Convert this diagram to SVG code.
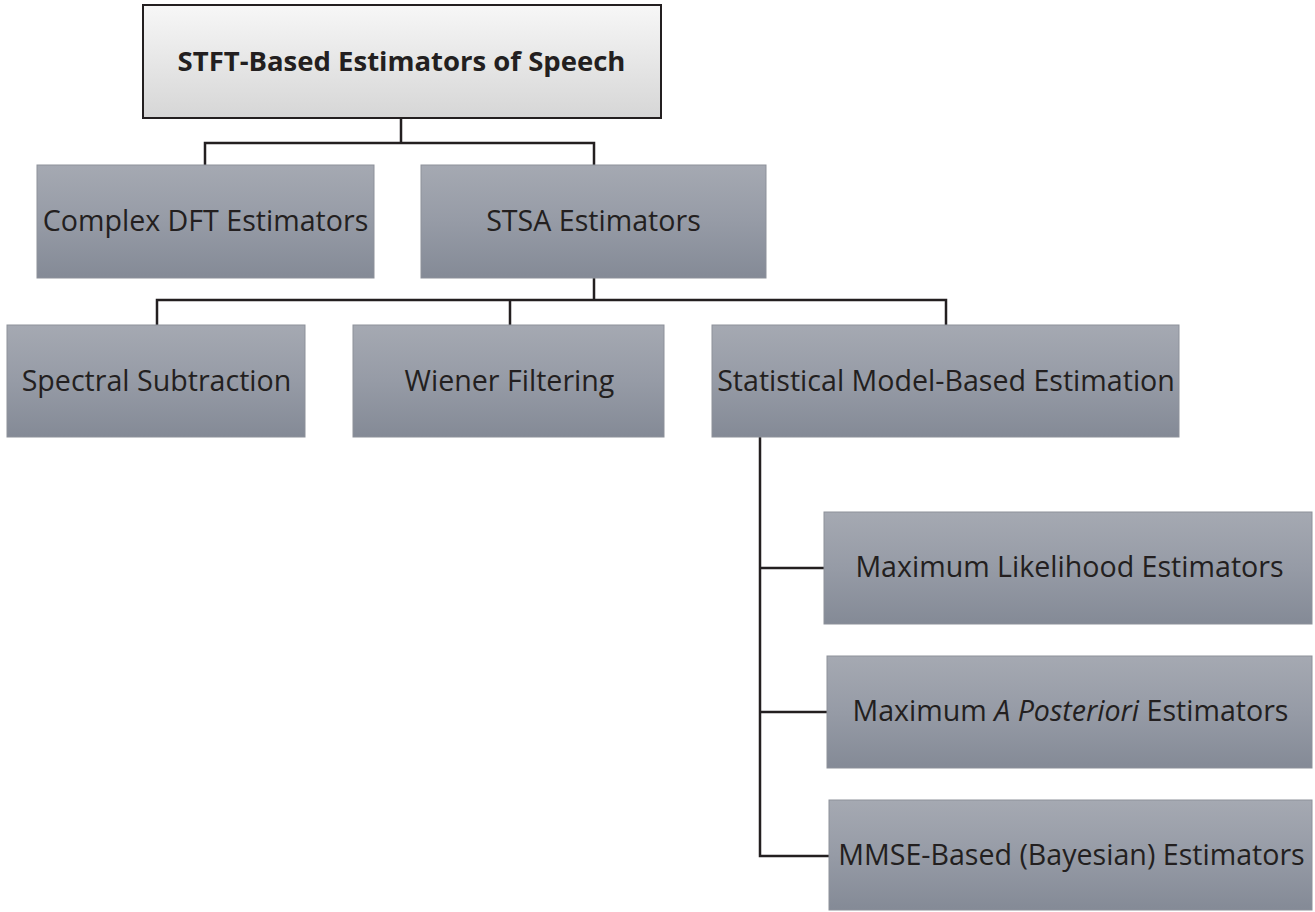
<svg xmlns="http://www.w3.org/2000/svg" width="1315" height="912" viewBox="0 0 1315 912">
<defs>
<linearGradient id="gGray" x1="0" y1="0" x2="0" y2="1">
<stop offset="0" stop-color="#a5a9b2"/>
<stop offset="0.5" stop-color="#969ba6"/>
<stop offset="1" stop-color="#848a96"/>
</linearGradient>
<linearGradient id="gTop" x1="0" y1="0" x2="0" y2="1">
<stop offset="0" stop-color="#f7f7f7"/>
<stop offset="1" stop-color="#d6d6d6"/>
</linearGradient>
<style>
.box{fill:url(#gGray);stroke:#8d919a;stroke-width:1}
.top{fill:url(#gTop);stroke:#231f20;stroke-width:2}
.lbl{font-family:"Open Sans","Liberation Sans",sans-serif;font-size:28.6px;fill:#231f20;text-anchor:middle}
.ttl{font-family:"Open Sans","Liberation Sans",sans-serif;font-size:27.5px;font-weight:bold;fill:#231f20;text-anchor:middle}
.con{fill:none;stroke:#231f20;stroke-width:2.5}
</style>
</defs>
<g id="connectors">
<path class="con" d="M401,118 V143 M205,165 V143 H594 V165"/>
<path class="con" d="M594,278 V300 M157,325 V300 H946 V325 M510,300 V325"/>
<path class="con" d="M760,437 V856 H829 M760,568 H824 M760,712 H827"/>
</g>
<g id="root">
<rect class="top" x="143" y="5" width="518" height="113"/>
<text class="ttl" x="401.5" y="71">STFT-Based Estimators of Speech</text>
</g>
<g id="complex">
<rect class="box" x="37" y="165" width="337" height="113"/>
<text class="lbl" x="205.5" y="231">Complex DFT Estimators</text>
</g>
<g id="stsa">
<rect class="box" x="421" y="165" width="345" height="113"/>
<text class="lbl" x="593.5" y="231">STSA Estimators</text>
</g>
<g id="spectral">
<rect class="box" x="7" y="325" width="298" height="112"/>
<text class="lbl" x="156.5" y="391">Spectral Subtraction</text>
</g>
<g id="wiener">
<rect class="box" x="353" y="325" width="311" height="112"/>
<text class="lbl" x="509.5" y="391">Wiener Filtering</text>
</g>
<g id="statistical">
<rect class="box" x="712" y="325" width="467" height="112"/>
<text class="lbl" x="946" y="391">Statistical Model-Based Estimation</text>
</g>
<g id="ml">
<rect class="box" x="824" y="512" width="488" height="112"/>
<text class="lbl" x="1069.5" y="577">Maximum Likelihood Estimators</text>
</g>
<g id="map">
<rect class="box" x="827" y="656" width="485" height="112"/>
<text class="lbl" x="1070.5" y="721">Maximum <tspan font-style="italic">A Posteriori</tspan> Estimators</text>
</g>
<g id="mmse">
<rect class="box" x="829" y="800" width="483" height="110"/>
<text class="lbl" x="1071.5" y="865">MMSE-Based (Bayesian) Estimators</text>
</g>
</svg>
